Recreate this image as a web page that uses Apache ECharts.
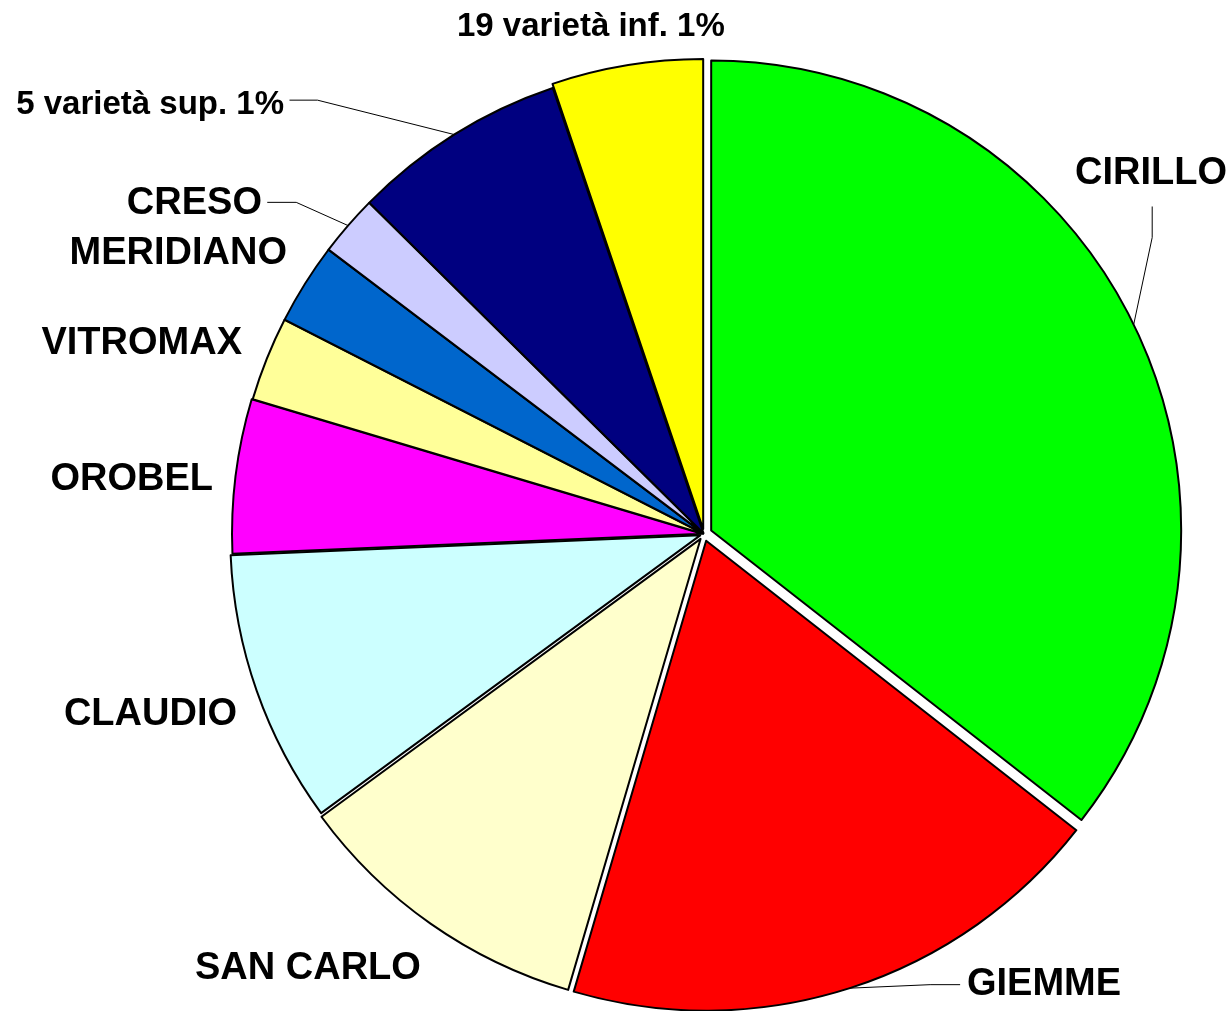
<!DOCTYPE html>
<html>
<head>
<meta charset="utf-8">
<script src="https://cdn.jsdelivr.net/npm/echarts@6/dist/echarts.min.js"></script>
<style>
  html, body { margin: 0; padding: 0; background: #fff; }
  #pie { width: 1232px; height: 1011px; }
</style>
</head>
<body>
<div id="pie"></div>
<script>
// dati (percentuali)
const names = ['CIRILLO', 'GIEMME', 'SAN CARLO', 'CLAUDIO', 'OROBEL', 'VITROMAX', 'MERIDIANO', 'CRESO', '5 varietà sup. 1%', '19 varietà inf. 1%']
const values = [35.6, 19.0, 10.4, 9.4, 5.3, 2.9, 2.8, 2.1, 7.4, 5.2]

// stile
const colors = ['#00ff00', '#ff0000', '#ffffcc', '#ccffff', '#ff00ff', '#ffff99', '#0066cc', '#ccccff', '#000080', '#ffff00']
const explode = [8, 7, 6, 4, 2, 1, 1, 1, 1, 5]
// etichette: x, y, align, fontSize
const labelPos = [
  [1075, 174, 'left', 38],
  [967, 985, 'left', 38],
  [195, 969, 'left', 38],
  [237, 715, 'right', 38],
  [213, 480, 'right', 38],
  [242, 344, 'right', 38],
  [287, 254, 'right', 38],
  [262, 204, 'right', 38],
  [284, 105, 'right', 33],
  [457, 27, 'left', 33]
]
// linee guida (coordinate locali della fetta): piega, fine
const leader = {
  0: [[1145, 241], [1145, 210]],
  1: [[928, 978], [958, 978]],
  7: [[297, 203], [268, 203]],
  8: [[318, 101], [290, 101]]
}

const offsets = [...new Set(explode)]

const series = offsets.map(off => ({
  type: 'pie',
  center: [704, 534],
  radius: 470,
  startAngle: 90,
  clockwise: true,
  silent: true,
  selectedMode: 'multiple',
  selectedOffset: off,
  avoidLabelOverlap: false,
  animation: false,
  itemStyle: { borderColor: '#000', borderWidth: 2 },
  label: {
    show: false,
    position: 'outside',
    formatter: ' ',
    fontSize: 10
  },
  labelLine: { show: false, lineStyle: { color: '#000', width: 1 } },
  labelLayout(params) {
    const i = params.dataIndex
    if (leader[i] && params.labelLinePoints) {
      return { labelLinePoints: [params.labelLinePoints[0], leader[i][0], leader[i][1]] }
    }
    return {}
  },
  data: names.map((n, i) => {
    const mine = explode[i] === off
    return {
      name: n,
      value: values[i],
      selected: mine,
      itemStyle: mine ? { color: colors[i] } : { color: 'rgba(0,0,0,0)', borderWidth: 0 },
      label: { show: mine && !!leader[i] },
      labelLine: { show: mine && !!leader[i] }
    }
  })
}))

// testi delle etichette
const texts = names.map((n, i) => ({
  type: 'text',
  x: labelPos[i][0],
  y: labelPos[i][1],
  z: 100,
  style: {
    text: n,
    fill: '#000',
    font: 'bold ' + labelPos[i][3] + 'px "Liberation Sans", Arial, sans-serif',
    align: labelPos[i][2],
    verticalAlign: 'middle'
  }
}))

const chart = echarts.init(document.getElementById('pie'))
chart.setOption({ backgroundColor: '#fff', series: series, graphic: texts })
</script>
</body>
</html>
